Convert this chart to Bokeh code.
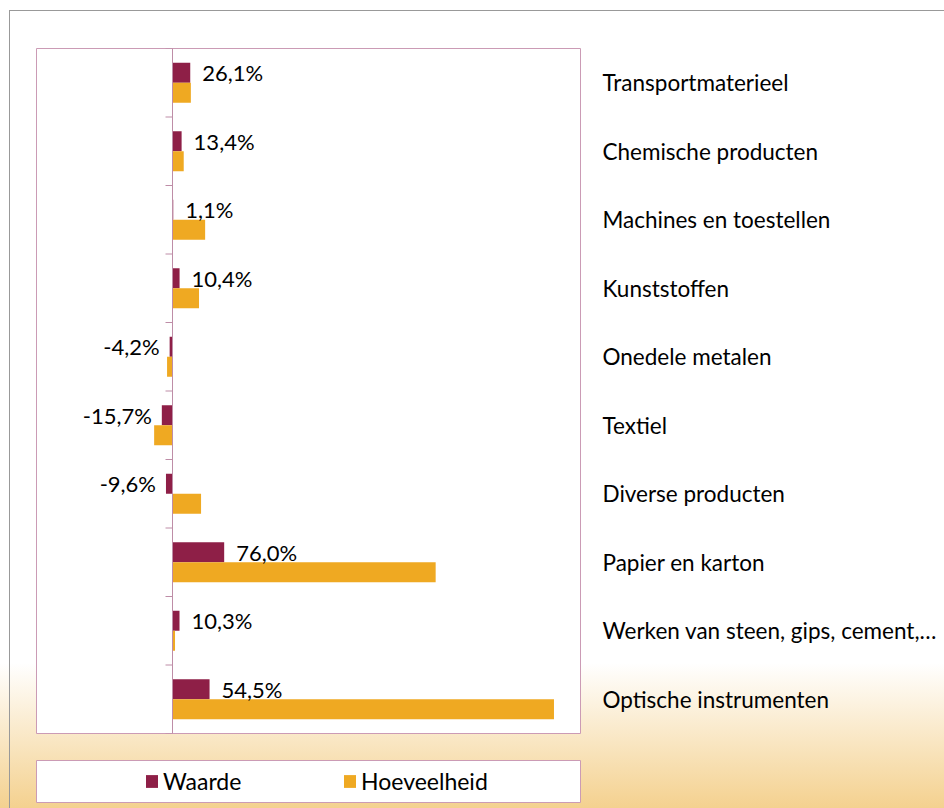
from bokeh.plotting import figure
from bokeh.layouts import column
from bokeh.models import ColumnDataSource, FactorRange, Range1d, Legend, LegendItem, Span
from bokeh.transform import dodge
from bokeh.core.properties import value
from bokeh.embed import file_html
from bokeh.resources import INLINE

# ---------------- data ----------------
categories = [
    "Transportmaterieel",
    "Chemische producten",
    "Machines en toestellen",
    "Kunststoffen",
    "Onedele metalen",
    "Textiel",
    "Diverse producten",
    "Papier en karton",
    "Werken van steen, gips, cement,…",
    "Optische instrumenten",
]
waarde = [26.1, 13.4, 1.1, 10.4, -4.2, -15.7, -9.6, 76.0, 10.3, 54.5]
hoeveelheid = [27, 16.5, 48, 39, -8, -27, 42, 387, 3.7, 561]
series_names = ["Waarde", "Hoeveelheid"]

# ---------------- style ----------------
FONT = "Lato"
C_WAARDE = "#8E1F47"
C_HOEV = "#EFA922"
MAUVE = "#CB9BB5"
ZERO = "#BE8DA7"
W, H = 944, 808
ML, MT, FW, FH = 36, 48, 544, 685
H1 = 745                 # main chart height
H2 = H - H1              # legend strip height
MR = W - ML - FW
X_MIN, X_MAX = -200, 600
BAR_H = 0.292
DODGE = 0.146

labels = [f"{v:.1f}".replace(".", ",") + "%" for v in waarde]
src = ColumnDataSource(dict(
    cat=categories,
    waarde=waarde,
    hoeveelheid=hoeveelheid,
    label=labels,
    align=["left" if v >= 0 else "right" for v in waarde],
    xoff=[12 if v >= 0 else -10 for v in waarde],
))

p = figure(
    width=W, height=H1,
    y_range=FactorRange(factors=categories[::-1]),
    x_range=Range1d(X_MIN, X_MAX),
    output_backend="svg", toolbar_location=None,
    x_axis_location=None, y_axis_location="right",
    min_border_left=ML, min_border_top=MT, min_border_bottom=H1 - MT - FH, min_border_right=MR,
)
p.border_fill_color = None
p.background_fill_color = "white"
p.outline_line_color = MAUVE
p.outline_line_width = 1
p.xgrid.visible = False
p.ygrid.visible = False

ax = p.yaxis[0]
ax.axis_line_color = None
ax.major_tick_line_color = None
ax.major_tick_out = 0
ax.major_tick_in = 0
ax.major_label_standoff = 22
ax.major_label_text_font = FONT
ax.major_label_text_font_size = "22.5px"
ax.major_label_text_color = "black"

# zero line and category separator ticks
p.add_layout(Span(location=0, dimension="height", line_color=ZERO, line_width=1))
n = len(categories)
tick_units = 7 * (X_MAX - X_MIN) / FW
p.segment(x0=[-tick_units] * (n + 1), x1=[0] * (n + 1), y0=list(range(n + 1)), y1=list(range(n + 1)),
          line_color=ZERO, line_width=1)

p.hbar(y=dodge("cat", DODGE, range=p.y_range), left=0, right="waarde", height=BAR_H,
       source=src, fill_color=C_WAARDE, line_color=None)
p.hbar(y=dodge("cat", -DODGE, range=p.y_range), left=0, right="hoeveelheid", height=BAR_H,
       source=src, fill_color=C_HOEV, line_color=None)

p.text(x="waarde", y=dodge("cat", DODGE, range=p.y_range), text="label", source=src,
       text_align="align", x_offset="xoff", text_baseline="middle",
       text_font=value(FONT), text_font_size="22px", text_color="black")

# ---------------- legend strip ----------------
LEG_TOP = 760 - H1
LEG_H = 42
q = figure(
    width=W, height=H2, output_backend="svg", toolbar_location=None,
    x_range=Range1d(0, 1), y_range=Range1d(0, 1),
    x_axis_location=None, y_axis_location=None,
    min_border_left=ML, min_border_right=MR, min_border_top=LEG_TOP,
    min_border_bottom=H2 - LEG_TOP - LEG_H,
)
q.border_fill_color = None
q.background_fill_color = "white"
q.outline_line_color = MAUVE
q.xgrid.visible = False
q.ygrid.visible = False
# zero-width key renderers: they only supply the legend swatches
k1 = q.hbar(y=[0], left=[0], right=[0], height=0, fill_color=C_WAARDE, line_color=None)
k2 = q.hbar(y=[0], left=[0], right=[0], height=0, fill_color=C_HOEV, line_color=None)
legend = Legend(
    items=[LegendItem(label=series_names[0], renderers=[k1]),
           LegendItem(label=series_names[1], renderers=[k2])],
    location=(108, 7), orientation="horizontal",
    padding=0, margin=0, spacing=19, label_width=160, label_height=28,
    glyph_width=15, glyph_height=16, label_standoff=4,
    border_line_color=None, background_fill_color=None,
    label_text_font=FONT, label_text_font_size="23px", label_text_color="black",
)
q.add_layout(legend)

layout = column(p, q, spacing=0)
layout.styles = {
    "background": (
        "linear-gradient(#999,#999) 9px 10px / 1px 100% no-repeat, "
        "linear-gradient(#999,#999) 9px 10px / 100% 1px no-repeat, "
        "linear-gradient(to bottom, #ffffff 0px, #ffffff 663px, #F4D18F 808px)"
    )
}

open("out.html", "w").write(file_html(layout, INLINE))
